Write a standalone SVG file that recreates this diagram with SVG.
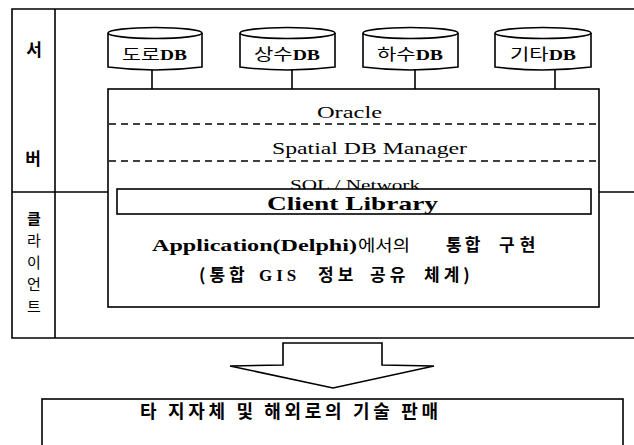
<svg xmlns="http://www.w3.org/2000/svg" width="634" height="445" viewBox="0 0 634 445">
  <defs>
    <style>
      .ln { fill: none; stroke: #000; stroke-width: 1.6; }
      .box { fill: #fff; stroke: #000; stroke-width: 1.6; }
      .dash { fill: none; stroke: #000; stroke-width: 1.4; stroke-dasharray: 7 5; }
      .kr { font-family: "Noto Sans CJK KR", "Noto Sans", sans-serif; fill: #000; }
      .en { font-family: "Liberation Serif", "DejaVu Serif", serif; fill: #000; }
      .side { font-size: 17px; text-anchor: middle; }
      .col { font-size: 15px; text-anchor: middle; }
      .dbk { font-size: 16px; }
      .dbe { font-size: 15px; font-weight: 700; }
      .l2 { font-size: 17px; font-weight: 700; letter-spacing: 4px; }
    </style>
  </defs>

  <!-- outer frame: server / client rows -->
  <g id="frame">
    <path class="ln" d="M634 9 H12 V338 H634"/>
    <path class="ln" d="M55 9 V338"/>
    <path class="ln" d="M12 192 H108"/>
    <path class="ln" d="M599 192 H634"/>
  </g>

  <!-- side labels -->
  <g id="label-server">
    <text class="kr side" x="34" y="56" font-weight="700">서</text>
    <text class="kr side" x="33" y="165" font-weight="700">버</text>
  </g>
  <g id="label-client">
    <text class="kr col" x="34" y="224" font-weight="700">클</text>
    <text class="kr col" x="34" y="246">라</text>
    <text class="kr col" x="34" y="268">이</text>
    <text class="kr col" x="34" y="290">언</text>
    <text class="kr col" x="34" y="312">트</text>
  </g>

  <!-- connectors from databases to server stack -->
  <g id="connectors">
    <path class="ln" d="M152 70 V89"/>
    <path class="ln" d="M292 70 V89"/>
    <path class="ln" d="M415 70 V89"/>
    <path class="ln" d="M555 70 V89"/>
    <path class="ln" d="M108 202 H117"/>
    <path class="ln" d="M591 202 H599"/>
  </g>

  <!-- database cylinders -->
  <g id="db-road">
    <path class="box" d="M108 33 V67 Q155 73 202 67 V33"/>
    <ellipse class="box" cx="155" cy="33" rx="47" ry="5.5"/>
    <text x="122" y="60" textLength="65" lengthAdjust="spacingAndGlyphs"><tspan class="kr dbk">도로</tspan><tspan class="en dbe">DB</tspan></text>
  </g>
  <g id="db-water">
    <path class="box" d="M240 33 V67 Q287.5 73 335 67 V33"/>
    <ellipse class="box" cx="287.5" cy="33" rx="47.5" ry="5.5"/>
    <text x="254" y="60" textLength="66" lengthAdjust="spacingAndGlyphs"><tspan class="kr dbk">상수</tspan><tspan class="en dbe">DB</tspan></text>
  </g>
  <g id="db-sewer">
    <path class="box" d="M363 33 V67 Q410.5 73 458 67 V33"/>
    <ellipse class="box" cx="410.5" cy="33" rx="47.5" ry="5.5"/>
    <text x="377" y="60" textLength="66" lengthAdjust="spacingAndGlyphs"><tspan class="kr dbk">하수</tspan><tspan class="en dbe">DB</tspan></text>
  </g>
  <g id="db-etc">
    <path class="box" d="M495 33 V67 Q543 73 591 67 V33"/>
    <ellipse class="box" cx="543" cy="33" rx="48" ry="5.5"/>
    <text x="510" y="60" textLength="66" lengthAdjust="spacingAndGlyphs"><tspan class="kr dbk">기타</tspan><tspan class="en dbe">DB</tspan></text>
  </g>

  <!-- server stack and client application -->
  <g id="stack">
    <rect class="box" x="108" y="89" width="491" height="218"/>
    <path class="dash" d="M109 124 H598"/>
    <path class="dash" d="M109 161 H598"/>
    <text class="en" x="317" y="118" font-size="16" textLength="65" lengthAdjust="spacingAndGlyphs">Oracle</text>
    <text class="en" x="272" y="154" font-size="16" textLength="195" lengthAdjust="spacingAndGlyphs">Spatial DB Manager</text>
    <text class="en" x="290" y="190" font-size="15" textLength="130" lengthAdjust="spacingAndGlyphs">SOL / Network</text>
  </g>
  <g id="client-library">
    <rect class="box" x="117" y="189" width="474" height="25"/>
    <text class="en" x="267" y="210" font-size="19" font-weight="700" textLength="171" lengthAdjust="spacingAndGlyphs">Client Library</text>
  </g>
  <g id="application">
    <text class="en" x="152" y="251" font-size="17" font-weight="700" textLength="205" lengthAdjust="spacingAndGlyphs">Application(Delphi)</text>
    <text class="kr" x="358" y="251" font-size="16" textLength="52" lengthAdjust="spacingAndGlyphs">에서의</text>
    <text class="kr" x="446" y="251" font-size="17" font-weight="700" letter-spacing="3">통합</text>
    <text class="kr" x="499" y="251" font-size="17" font-weight="700" letter-spacing="5">구현</text>
    <text class="kr l2" x="199" y="281">(통합</text>
    <text class="en l2" x="259" y="281" font-size="18" letter-spacing="2">GIS</text>
    <text class="kr l2" x="318" y="281">정보</text>
    <text class="kr l2" x="370" y="281">공유</text>
    <text class="kr l2" x="424" y="281">체계)</text>
  </g>

  <!-- downward block arrow -->
  <g id="arrow">
    <polygon class="box" stroke-width="2" points="283,343 382,343 382,365 434,366 333,388 230,366 283,365"/>
  </g>

  <g id="sales">
    <rect class="box" x="42" y="399" width="581" height="60"/>
    <text class="kr" x="140" y="418" font-size="18" font-weight="700" textLength="298" lengthAdjust="spacing">타 지자체 및 해외로의 기술 판매</text>
  </g>
</svg>
